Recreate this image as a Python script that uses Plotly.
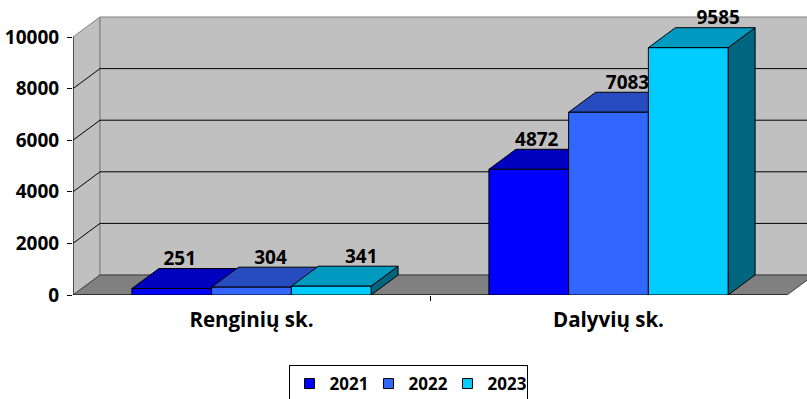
import plotly.graph_objects as go

CATEGORIES = ["Renginių sk.", "Dalyvių sk."]
YEARS = ["2021", "2022", "2023"]
VALUES_2021 = [251, 4872]
VALUES_2022 = [304, 7083]
VALUES_2023 = [341, 9585]
Y_TICKS = [0, 2000, 4000, 6000, 8000, 10000]

FRONT = ["#0000FF", "#3366FF", "#00CCFF"]
TOP = ["#0000BF", "#264CBF", "#0099BF"]
SIDE = ["#000080", "#193380", "#006680"]
WALL = "#C0C0C0"
FLOOR = "#808080"
EDGE = "#808080"
FONT = "Open Sans"

# pixel geometry of the pseudo 3d box
PX_X = 357.0           # px per category unit
PX_Y = 258.0 / 10000   # px per value unit
DX = 27 / PX_X
DY = 20 / PX_Y
GROUP = 0.67
BW = GROUP / 3
Y_MAX = 10000

fig = go.Figure()


def poly(xs, ys, fill, line="black", width=1):
    fig.add_trace(go.Scatter(
        x=xs + [xs[0]], y=ys + [ys[0]], mode="lines", fill="toself",
        fillcolor=fill, line=dict(color=line, width=width),
        hoverinfo="skip", showlegend=False,
    ))


def seg(xs, ys, color="black", width=1):
    fig.add_trace(go.Scatter(
        x=xs, y=ys, mode="lines", line=dict(color=color, width=width),
        hoverinfo="skip", showlegend=False,
    ))


x0, x1 = -0.5, len(CATEGORIES) - 0.5

# walls and floor
poly([x0, x0, x0 + DX, x0 + DX], [0, Y_MAX, Y_MAX + DY, DY], WALL, EDGE)
poly([x0 + DX, x0 + DX, x1 + DX + 0.2, x1 + DX + 0.2],
     [DY, Y_MAX + DY, Y_MAX + DY, DY], WALL, EDGE)
poly([x0, x1, x1 + DX, x0 + DX], [0, 0, DY, DY], FLOOR, "#404040")

for v in Y_TICKS[1:-1]:
    seg([x0, x0 + DX, x1 + DX + 0.2], [v, v + DY, v + DY])

# axes lines
seg([x0, x0], [0, Y_MAX])
seg([x0, x1], [0, 0])

series = [VALUES_2021, VALUES_2022, VALUES_2023]
for c in range(len(CATEGORIES)):
    for i, vals in enumerate(series):
        v = vals[c]
        bx0 = c - GROUP / 2 + i * BW
        bx1 = bx0 + BW
        poly([bx1, bx1, bx1 + DX, bx1 + DX], [0, v, v + DY, DY], SIDE[i])
        poly([bx0, bx1, bx1 + DX, bx0 + DX], [v, v, v + DY, v + DY], TOP[i])
        poly([bx0, bx1, bx1, bx0], [0, 0, v, v], FRONT[i])

# value labels
for i, vals in enumerate(series):
    fig.add_trace(go.Scatter(
        x=[c - GROUP / 2 + (i + 0.5) * BW + (8 + 11 * i) / PX_X
           for c in range(len(CATEGORIES))],
        y=[v + 28 / PX_Y for v in vals],
        mode="text", text=[str(v) for v in vals],
        textposition="middle center",
        textfont=dict(family=FONT, size=19, color="black", weight="bold"),
        hoverinfo="skip", showlegend=False, cliponaxis=False,
    ))

# legend entries
for i, name in enumerate(YEARS):
    fig.add_trace(go.Scatter(
        x=[None], y=[None], mode="markers", name=name,
        marker=dict(symbol="square", size=10, color=FRONT[i],
                    line=dict(color="black", width=1)),
    ))

W, H = 807, 399
L, B = 73, 104
plot_w = W - L
plot_h = H - B

fig.update_layout(
    width=W, height=H,
    paper_bgcolor="white", plot_bgcolor="white",
    margin=dict(l=L, r=0, t=0, b=B, autoexpand=False),
    xaxis=dict(
        range=[x0, x0 + plot_w / PX_X],
        tickvals=list(range(len(CATEGORIES))), ticktext=CATEGORIES,
        ticks="", showgrid=False, zeroline=False, showline=False,
        ticklabelstandoff=10, automargin=False,
        tickfont=dict(family=FONT, size=20.5, color="black", weight="bold"),
        minor=dict(tickvals=[0.5], ticks="outside", ticklen=5,
                   tickcolor="black", showgrid=False),
        fixedrange=True,
    ),
    yaxis=dict(
        range=[0, plot_h / PX_Y],
        tickvals=Y_TICKS, ticktext=[str(v) for v in Y_TICKS],
        ticks="outside", ticklen=5, tickcolor="black",
        ticklabelstandoff=4, automargin=False,
        showgrid=False, zeroline=False, showline=False,
        tickfont=dict(family=FONT, size=19, color="black", weight="bold"),
        fixedrange=True,
    ),
    showlegend=True,
    legend=dict(
        orientation="h", x=(408 - L) / plot_w, xanchor="center",
        y=-(365 - plot_h) / plot_h, yanchor="top",
        bordercolor="black", borderwidth=1,
        font=dict(family=FONT, size=17, color="black", weight="bold"),
        entrywidth=34, entrywidthmode="pixels",
    ),
)

fig.write_html("out.html", config={"displayModeBar": False},
               post_script="document.body.style.margin = '0';")
